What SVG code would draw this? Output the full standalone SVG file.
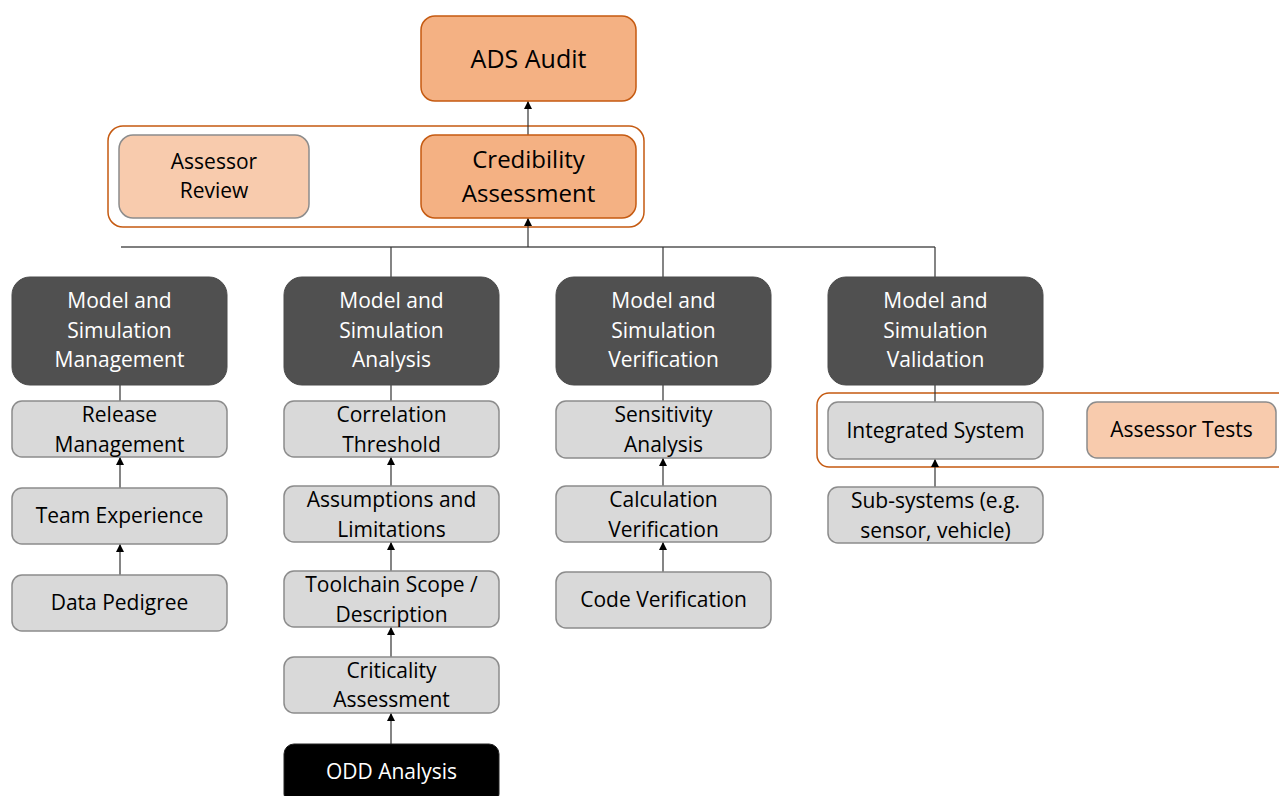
<svg xmlns="http://www.w3.org/2000/svg" width="1279" height="796" viewBox="0 0 1279 796">
<defs>
<marker id="ah" viewBox="0 0 10 10" refX="10" refY="5" markerWidth="9" markerHeight="8" markerUnits="userSpaceOnUse" orient="auto">
<path d="M0,0 L10,5 L0,10 z" fill="#000"/>
</marker>
<style>
text{font-family:"Open Sans","Liberation Sans",sans-serif;text-anchor:middle;}
.t{font-size:21px;fill:#000;}
.w{font-size:21px;fill:#fff;}
.dark{fill:#505050;stroke:#4a4a4a;stroke-width:1;}
.gray{fill:#d9d9d9;stroke:#8c8c8c;stroke-width:1.5;}
.org{fill:#f4b183;stroke:#c55a11;stroke-width:1.5;}
.lorg{fill:#f8cbad;stroke:#8c8c8c;stroke-width:1.5;}
.grp{fill:none;stroke:#c55a11;stroke-width:1.5;}
.ln{fill:none;stroke:#333;stroke-width:1.2;}
.la{fill:none;stroke:#333;stroke-width:1.2;marker-end:url(#ah);}
</style>
</defs>
<rect width="1279" height="796" fill="#fff"/>

<g id="groups">
<rect class="grp" x="108" y="126" width="536" height="101" rx="15"/>
<rect class="grp" x="817" y="393" width="480" height="74" rx="12"/>
</g>

<g id="connectors">
<line class="la" x1="528" y1="135" x2="528" y2="101"/>
<line x1="121" y1="247" x2="935" y2="247" stroke="#000" stroke-width="1.2"/>
<line class="la" x1="528" y1="247" x2="528" y2="218"/>
<line class="ln" x1="391" y1="247" x2="391" y2="277"/>
<line class="ln" x1="663" y1="247" x2="663" y2="277"/>
<line class="ln" x1="935" y1="247" x2="935" y2="277"/>
<line class="ln" x1="120" y1="385" x2="120" y2="401"/>
<line class="ln" x1="391" y1="385" x2="391" y2="401"/>
<line class="ln" x1="663" y1="385" x2="663" y2="401"/>
<line class="ln" x1="935" y1="385" x2="935" y2="402"/>
<line class="la" x1="120" y1="488" x2="120" y2="457"/>
<line class="la" x1="120" y1="575" x2="120" y2="544"/>
<line class="la" x1="391" y1="486" x2="391" y2="457"/>
<line class="la" x1="391" y1="571" x2="391" y2="542"/>
<line class="la" x1="391" y1="657" x2="391" y2="627"/>
<line class="la" x1="391" y1="744" x2="391" y2="713"/>
<line class="la" x1="663" y1="486" x2="663" y2="458"/>
<line class="la" x1="663" y1="572" x2="663" y2="542"/>
<line class="la" x1="935" y1="487" x2="935" y2="459"/>
</g>

<g id="ads-audit">
<rect class="org" x="421" y="16" width="215" height="85" rx="14"/>
<text x="528.5" y="68" style="font-size:25px">ADS Audit</text>
</g>
<g id="assessor-review">
<rect class="lorg" x="119" y="135" width="190" height="83" rx="14"/>
<text class="t" x="214" y="169">Assessor</text>
<text class="t" x="214" y="198">Review</text>
</g>
<g id="credibility-assessment">
<rect class="org" x="421" y="135" width="215" height="83" rx="14"/>
<text x="528.5" y="168" style="font-size:24px">Credibility</text>
<text x="528.5" y="202" style="font-size:24px">Assessment</text>
</g>

<g id="ms-management">
<rect class="dark" x="12" y="277" width="215" height="108" rx="18"/>
<text class="w" x="119.5" y="308">Model and</text>
<text class="w" x="119.5" y="338">Simulation</text>
<text class="w" x="119.5" y="367">Management</text>
</g>
<g id="ms-analysis">
<rect class="dark" x="284" y="277" width="215" height="108" rx="18"/>
<text class="w" x="391.5" y="308">Model and</text>
<text class="w" x="391.5" y="338">Simulation</text>
<text class="w" x="391.5" y="367">Analysis</text>
</g>
<g id="ms-verification">
<rect class="dark" x="556" y="277" width="215" height="108" rx="18"/>
<text class="w" x="663.5" y="308">Model and</text>
<text class="w" x="663.5" y="338">Simulation</text>
<text class="w" x="663.5" y="367">Verification</text>
</g>
<g id="ms-validation">
<rect class="dark" x="828" y="277" width="215" height="108" rx="18"/>
<text class="w" x="935.5" y="308">Model and</text>
<text class="w" x="935.5" y="338">Simulation</text>
<text class="w" x="935.5" y="367">Validation</text>
</g>

<g id="release-management">
<rect class="gray" x="12" y="401" width="215" height="56" rx="10"/>
<text class="t" x="119.5" y="422">Release</text>
<text class="t" x="119.5" y="452">Management</text>
</g>
<g id="team-experience">
<rect class="gray" x="12" y="488" width="215" height="56" rx="10"/>
<text class="t" x="119.5" y="523">Team Experience</text>
</g>
<g id="data-pedigree">
<rect class="gray" x="12" y="575" width="215" height="56" rx="10"/>
<text class="t" x="119.5" y="610">Data Pedigree</text>
</g>

<g id="correlation-threshold">
<rect class="gray" x="284" y="401" width="215" height="56" rx="10"/>
<text class="t" x="391.5" y="422">Correlation</text>
<text class="t" x="391.5" y="452">Threshold</text>
</g>
<g id="assumptions-limitations">
<rect class="gray" x="284" y="486" width="215" height="56" rx="10"/>
<text class="t" x="391.5" y="507">Assumptions and</text>
<text class="t" x="391.5" y="537">Limitations</text>
</g>
<g id="toolchain-scope">
<rect class="gray" x="284" y="571" width="215" height="56" rx="10"/>
<text class="t" x="391.5" y="592">Toolchain Scope /</text>
<text class="t" x="391.5" y="622">Description</text>
</g>
<g id="criticality-assessment">
<rect class="gray" x="284" y="657" width="215" height="56" rx="10"/>
<text class="t" x="391.5" y="678">Criticality</text>
<text class="t" x="391.5" y="707">Assessment</text>
</g>
<g id="odd-analysis">
<rect x="284" y="744" width="215" height="60" rx="10" fill="#000" stroke="#222" stroke-width="1"/>
<text class="w" x="391.5" y="779">ODD Analysis</text>
</g>

<g id="sensitivity-analysis">
<rect class="gray" x="556" y="401" width="215" height="57" rx="10"/>
<text class="t" x="663.5" y="422">Sensitivity</text>
<text class="t" x="663.5" y="452">Analysis</text>
</g>
<g id="calculation-verification">
<rect class="gray" x="556" y="486" width="215" height="56" rx="10"/>
<text class="t" x="663.5" y="507">Calculation</text>
<text class="t" x="663.5" y="537">Verification</text>
</g>
<g id="code-verification">
<rect class="gray" x="556" y="572" width="215" height="56" rx="10"/>
<text class="t" x="663.5" y="607">Code Verification</text>
</g>

<g id="integrated-system">
<rect class="gray" x="828" y="402" width="215" height="57" rx="10"/>
<text class="t" x="935.5" y="438">Integrated System</text>
</g>
<g id="sub-systems">
<rect class="gray" x="828" y="487" width="215" height="56" rx="10"/>
<text class="t" x="935.5" y="508">Sub-systems (e.g.</text>
<text class="t" x="935.5" y="538">sensor, vehicle)</text>
</g>
<g id="assessor-tests">
<rect class="lorg" x="1087" y="402" width="189" height="56" rx="10"/>
<text class="t" x="1181.5" y="437">Assessor Tests</text>
</g>
</svg>
